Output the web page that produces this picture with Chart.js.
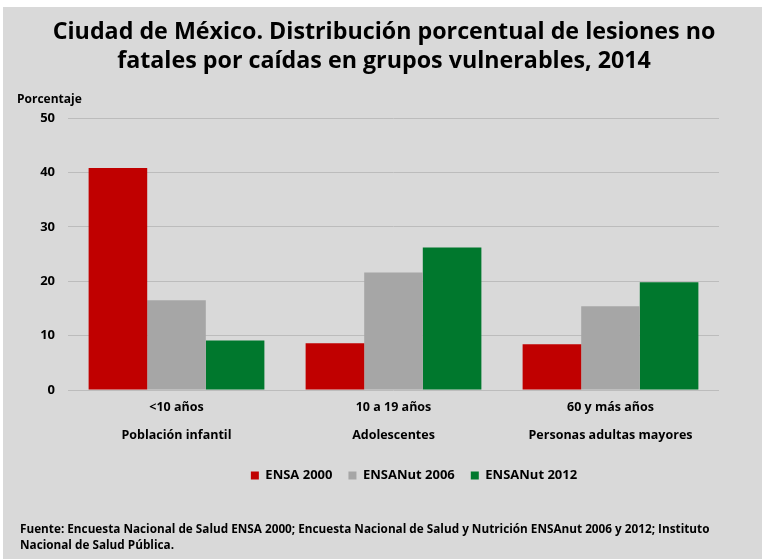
<!DOCTYPE html>
<html lang="es">
<head>
<meta charset="UTF-8">
<title>Lesiones no fatales por caídas, CDMX 2014</title>
<script src="https://cdn.jsdelivr.net/npm/chart.js"></script>
<style>
  html, body { margin: 0; padding: 0; background: #ffffff; }
  #wrap { position: absolute; left: 3px; top: 7px; width: 759px; height: 552px; background: #d9d9d9; }
  canvas { display: block; }
</style>
</head>
<body>
<div id="wrap"><canvas id="chart" width="759" height="552"></canvas></div>
<script>
// data
const edades = ['<10 años', '10 a 19 años', '60 y más años'];
const grupos = ['Población infantil', 'Adolescentes', 'Personas adultas mayores'];
const ensa2000 = [40.8, 8.6, 8.4];
const ensanut2006 = [16.5, 21.6, 15.4];
const ensanut2012 = [9.1, 26.2, 19.8];
const yTicks = [0, 10, 20, 30, 40, 50];

const titulo = [
  'Ciudad de México. Distribución porcentual de lesiones no',
  'fatales por caídas en grupos vulnerables, 2014'
];
const fuente = [
  'Fuente: Encuesta Nacional de Salud ENSA 2000; Encuesta Nacional de Salud y Nutrición ENSAnut 2006 y 2012; Instituto',
  'Nacional de Salud Pública.'
];

const FONT = '"Open Sans", Lato, "DejaVu Sans", sans-serif';

// pick the font size that makes a line about as wide as in the original
function fitFont(ctx, text, width, maxSize) {
  let size = maxSize;
  ctx.font = 'bold ' + size + 'px ' + FONT;
  while (size > 6 && ctx.measureText(text).width > width) {
    size -= 0.25;
    ctx.font = 'bold ' + size + 'px ' + FONT;
  }
  return size;
}

// title, axis caption and source note
const textos = {
  id: 'textos',
  afterDraw(chart) {
    const ctx = chart.ctx;
    ctx.save();
    ctx.fillStyle = '#000';
    ctx.textBaseline = 'middle';

    fitFont(ctx, titulo[0], 665, 24);
    ctx.textAlign = 'center';
    ctx.fillText(titulo[0], 381, 25);
    ctx.fillText(titulo[1], 381, 54);

    ctx.font = 'bold 12px ' + FONT;
    ctx.textAlign = 'left';
    ctx.fillText('Porcentaje', 14, 93);

    fitFont(ctx, fuente[0], 695, 12);
    ctx.fillText(fuente[0], 17, 523);
    ctx.fillText(fuente[1], 17, 539);
    ctx.restore();
  }
};

// move legend a bit to the right, as in the original
const legendShift = {
  id: 'legendShift',
  afterLayout(chart) {
    chart.legend.left += 53;
    chart.legend.right += 53;
  }
};

new Chart(document.getElementById('chart'), {
  type: 'bar',
  data: {
    labels: edades.map((e, i) => [e, grupos[i]]),
    datasets: [
      { label: 'ENSA 2000', data: ensa2000, backgroundColor: '#c00000' },
      { label: 'ENSANut 2006', data: ensanut2006, backgroundColor: '#a6a6a6' },
      { label: 'ENSANut 2012', data: ensanut2012, backgroundColor: '#00782d' }
    ]
  },
  options: {
    responsive: false,
    animation: false,
    datasets: { bar: { categoryPercentage: 0.81, barPercentage: 1 } },
    layout: { padding: { top: 111, right: 43, bottom: 67, left: 0 } },
    scales: {
      x: {
        grid: { display: false },
        border: { display: false },
        ticks: {
          color: '#000',
          padding: -5,
          font: { family: FONT, size: 12.5, weight: 'bold', lineHeight: 2.25 }
        },
        afterFit(scale) { scale.height = 63; }
      },
      y: {
        min: 0,
        max: 50,
        afterBuildTicks(scale) { scale.ticks = yTicks.map(v => ({ value: v })); },
        grid: { color: '#bcbcbc', lineWidth: 1, drawTicks: false },
        border: { display: false },
        ticks: {
          color: '#000',
          padding: 13,
          font: { family: FONT, size: 13, weight: 'bold' }
        },
        afterFit(scale) { scale.width = 65; }
      }
    },
    plugins: {
      title: { display: false },
      tooltip: { enabled: false },
      legend: {
        position: 'bottom',
        labels: {
          boxWidth: 8,
          boxHeight: 8,
          padding: 16,
          color: '#000',
          font: { family: FONT, size: 13, weight: 'bold' }
        }
      }
    }
  },
  plugins: [textos, legendShift]
});
</script>
</body>
</html>
